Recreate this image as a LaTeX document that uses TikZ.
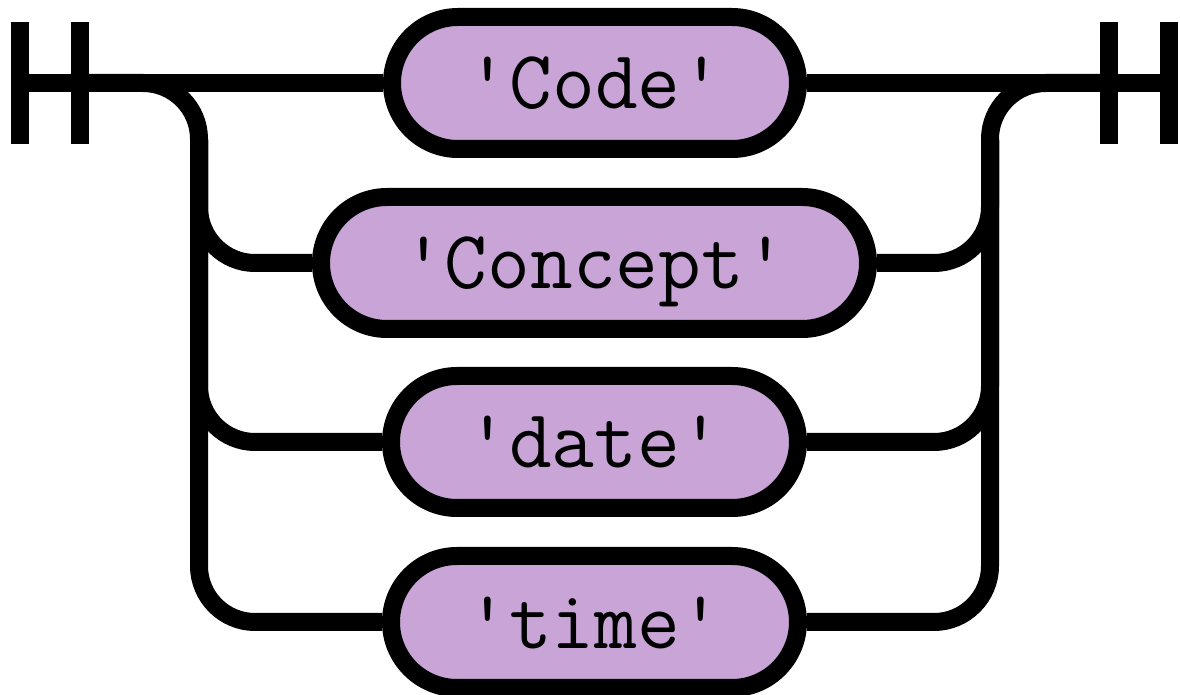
\documentclass[tikz,border=0pt]{standalone}
\usetikzlibrary{backgrounds}
\definecolor{boxfill}{RGB}{200,165,214}
\newcommand{\sq}{\textquotesingle}
\begin{document}
\begin{tikzpicture}[x=0.5pt,y=-0.5pt,
  line width=9pt,
  term/.style={draw=black,fill=boxfill,rounded corners=33pt,inner sep=0pt,
    minimum height=66pt,text height=26pt,text depth=0pt,
    font=\ttfamily\fontsize{41.5pt}{44pt}\selectfont},
  rail/.style={draw=black,line width=9pt,rounded corners=28pt}]
\useasboundingbox (0,0) rectangle (1180,695);
% terminals
\coordinate (L1) at (20,83);
\coordinate (L2) at (80,83);
\coordinate (R1) at (1109,83);
\coordinate (R2) at (1169,83);
\coordinate (lv) at (199,83);
\coordinate (lv2) at (199,140);
\coordinate (rv) at (990,83);
\coordinate (rv2) at (990,140);
\draw ([yshift=-30.5pt]L1) -- ([yshift=30.5pt]L1);
\draw ([yshift=-30.5pt]L2) -- ([yshift=30.5pt]L2);
\draw ([yshift=-30.5pt]R1) -- ([yshift=30.5pt]R1);
\draw ([yshift=-30.5pt]R2) -- ([yshift=30.5pt]R2);
% nodes
\node[term,minimum width=203pt] (code) at (595,83) {\sq Code\sq};
\node[term,minimum width=273.5pt] (concept) at (594.5,263) {\sq Concept\sq};
\node[term,minimum width=203.5pt] (date) at (594.5,442) {\sq date\sq};
\node[term,minimum width=203.5pt] (time) at (594.5,622) {\sq time\sq};
% rails
\begin{scope}[on background layer]
\draw[rail] (L1) -- (code.west);
\draw[rail] (code.east) -- (R2);
\draw[rail] (L2) -- (lv) |- (time.west);
\draw[rail] (lv2) |- (concept.west);
\draw[rail] (lv2) |- (date.west);
\draw[rail] (time.east) -| (rv) -- (R1);
\draw[rail] (concept.east) -| (rv2);
\draw[rail] (date.east) -| (rv2);
\end{scope}
\end{tikzpicture}
\end{document}
